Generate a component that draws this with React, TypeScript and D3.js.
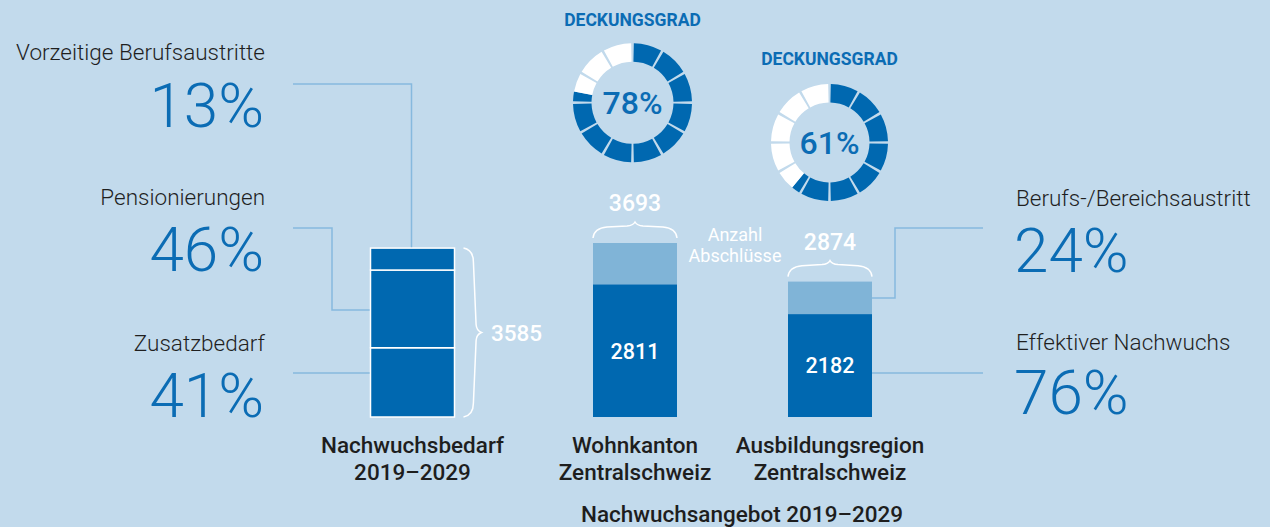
import React from "react";
import * as d3 from "d3";

// ---- data ----
const demandLabels = ["Zusatzbedarf", "Pensionierungen", "Vorzeitige Berufsaustritte"];
const demandShares = [41, 46, 13]; // percent, bottom to top
const demandTotal = 3585;

const supplyCategories = ["Wohnkanton", "Ausbildungsregion"];
const supplyTotals = [3693, 2874];
const supplyEffective = [2811, 2182];
const coverage = [78, 61];

const rightLabels = ["Berufs-/Bereichsaustritt", "Effektiver Nachwuchs"];
const rightShares = [24, 76];

const barCategories = ["Nachwuchsbedarf", "Wohnkanton", "Ausbildungsregion"];
const barLabelLines = [
  ["Nachwuchsbedarf", "2019–2029"],
  ["Wohnkanton", "Zentralschweiz"],
  ["Ausbildungsregion", "Zentralschweiz"],
];
const supplyTitle = "Nachwuchsangebot 2019–2029";
const donutTitle = "DECKUNGSGRAD";
const countLabel = ["Anzahl", "Abschlüsse"];
const donutSegments = 12;

// ---- styles ----
const W = 1270;
const H = 527;
const BG = "#c2daec";
const DARK = "#0068b0";
const LIGHT = "#80b4d7";
const LINE = "#86b9de";
const TEXT = "#1f1f1f";
const BLUE_TEXT = "#0b6cb4";
const FONT = "Roboto, 'Noto Sans', sans-serif";

const y = d3.scaleLinear().domain([0, 3693]).range([417, 243]);
const xc = d3.scaleOrdinal<string, number>().domain(barCategories).range([412.5, 635, 830]);
const BW = 84;

function vBrace(x: number, y0: number, y1: number, w: number) {
  const ym = (y0 + y1) / 2;
  const p = d3.path();
  p.moveTo(x, y0);
  p.quadraticCurveTo(x + w * 0.55, y0 + 2, x + w * 0.55, y0 + 14);
  p.lineTo(x + w * 0.7, ym - 8);
  p.quadraticCurveTo(x + w * 0.72, ym - 2, x + w, ym);
  p.quadraticCurveTo(x + w * 0.72, ym + 2, x + w * 0.7, ym + 8);
  p.lineTo(x + w * 0.55, y1 - 14);
  p.quadraticCurveTo(x + w * 0.55, y1 - 2, x, y1);
  return p.toString();
}

function hBrace(x0: number, x1: number, yb: number, h: number) {
  const xm = (x0 + x1) / 2;
  const p = d3.path();
  p.moveTo(x0, yb);
  p.quadraticCurveTo(x0 + 1, yb - h * 0.6, x0 + 14, yb - h * 0.68);
  p.lineTo(xm - 8, yb - h * 0.75);
  p.quadraticCurveTo(xm - 2, yb - h * 0.78, xm, yb - h);
  p.quadraticCurveTo(xm + 2, yb - h * 0.78, xm + 8, yb - h * 0.75);
  p.lineTo(x1 - 14, yb - h * 0.68);
  p.quadraticCurveTo(x1 - 1, yb - h * 0.6, x1, yb);
  return p.toString();
}

function Donut({ cx, cy, r0, r1, pct }: { cx: number; cy: number; r0: number; r1: number; pct: number }) {
  const arc = d3.arc<any>();
  const step = (2 * Math.PI) / donutSegments;
  const gap = 0.045;
  const f = (pct / 100) * 2 * Math.PI;
  const parts: { s: number; e: number; c: string }[] = [];
  d3.range(donutSegments).forEach((i) => {
    const s = i * step + gap / 2;
    const e = (i + 1) * step - gap / 2;
    if (f > s) parts.push({ s, e: Math.min(e, f), c: DARK });
    if (f < e) parts.push({ s: Math.max(s, f), e, c: "#ffffff" });
  });
  return (
    <g transform={`translate(${cx},${cy})`}>
      {parts.map((p, i) => (
        <path
          key={i}
          d={arc({ innerRadius: r0, outerRadius: r1, startAngle: p.s, endAngle: p.e }) || ""}
          fill={p.c}
        />
      ))}
      <text y={0} dy="0.36em" textAnchor="middle" fontSize={32} fontWeight={500} fill={BLUE_TEXT} fontFamily={FONT}>
        {pct}%
      </text>
    </g>
  );
}

export default function App() {
  let acc = 0;
  const demandSegs = demandShares.map((s) => {
    const v0 = acc;
    acc += (s / 100) * demandTotal;
    return { v0, v1: acc };
  });
  const x1 = xc(barCategories[0]) - BW / 2;
  const x1r = x1 + BW;

  const leftBase = [351, 205, 60];
  const leftPctBase = [417, 271, 127];

  const b3 = xc(barCategories[2]) - BW / 2;

  return (
    <div style={{ position: "absolute", left: 0, top: 0, width: W, height: H }}>
      <svg width={W} height={H} style={{ display: "block", fontFamily: FONT }}>
        <rect width={W} height={H} fill={BG} />

        {/* connector lines */}
        <g fill="none" stroke={LINE} strokeWidth={1.5}>
          <path d={`M293,84H${x1 + 41}V${y(demandTotal)}`} />
          <path d={`M293,228H332V310H${x1}`} />
          <path d={`M293,373H${x1}`} />
          <path d={`M${b3 + BW},${(y(supplyTotals[1]) + y(supplyEffective[1])) / 2}H895V228H983`} />
          <path d={`M${b3 + BW},373H983`} />
        </g>

        {/* demand bar */}
        {demandSegs.map((s, i) => (
          <rect
            key={i}
            x={x1}
            y={y(s.v1)}
            width={BW}
            height={y(s.v0) - y(s.v1)}
            fill={DARK}
            stroke="#ffffff"
            strokeWidth={1.5}
          />
        ))}
        <path d={vBrace(x1r + 9, y(demandTotal), y(0), 18)} fill="none" stroke="#fff" strokeWidth={1.5} />
        <text x={491} y={(y(demandTotal) + y(0)) / 2} dy="0.36em" fill="#fff" fontSize={22.5} fontWeight={500}>
          {demandTotal}
        </text>

        {/* left labels */}
        {demandLabels.map((l, i) => (
          <g key={l}>
            <text x={265} y={leftBase[i]} textAnchor="end" fill={TEXT} fontSize={22.5} fontWeight={300}>
              {l}
            </text>
            <text x={264} y={leftPctBase[i]} textAnchor="end" fill={BLUE_TEXT} fontSize={62} fontWeight={300}>
              {demandShares[i]}%
            </text>
          </g>
        ))}

        {/* supply bars */}
        {supplyCategories.map((c, i) => {
          const bx = xc(c) - BW / 2;
          const cx = xc(c);
          const top = y(supplyTotals[i]);
          return (
            <g key={c}>
              <rect x={bx} y={top} width={BW} height={y(0) - top} fill={LIGHT} />
              <rect x={bx} y={y(supplyEffective[i])} width={BW} height={y(0) - y(supplyEffective[i])} fill={DARK} />
              <text
                x={cx}
                y={(y(supplyEffective[i]) + y(0)) / 2}
                dy="0.36em"
                textAnchor="middle"
                fill="#fff"
                fontSize={21.5}
                fontWeight={500}
              >
                {supplyEffective[i]}
              </text>
              <path d={hBrace(bx, bx + BW, top - 5, 16)} fill="none" stroke="#fff" strokeWidth={1.5} />
              <text x={cx} y={top - 32} textAnchor="middle" fill="#fff" fontSize={23} fontWeight={500}>
                {supplyTotals[i]}
              </text>
            </g>
          );
        })}

        <text textAnchor="middle" fill="#fff" fontSize={18} fontWeight={400}>
          <tspan x={735} y={241}>{countLabel[0]}</tspan>
          <tspan x={735} y={262}>{countLabel[1]}</tspan>
        </text>

        {/* donuts */}
        <text x={632.5} y={26} textAnchor="middle" fill={BLUE_TEXT} fontSize={17.5} fontWeight={700}>
          {donutTitle}
        </text>
        <Donut cx={632.5} cy={102.7} r0={41} r1={59.5} pct={coverage[0]} />
        <text x={829.5} y={65} textAnchor="middle" fill={BLUE_TEXT} fontSize={17.5} fontWeight={700}>
          {donutTitle}
        </text>
        <Donut cx={829.5} cy={142.5} r0={40} r1={58.5} pct={coverage[1]} />

        {/* right labels */}
        {rightLabels.map((l, i) => (
          <g key={l}>
            <text x={1016} y={[206, 350][i]} fill={TEXT} fontSize={22.5} fontWeight={300}>
              {l}
            </text>
            <text x={1014} y={[272, 414][i]} fill={BLUE_TEXT} fontSize={62} fontWeight={300}>
              {rightShares[i]}%
            </text>
          </g>
        ))}

        {/* bottom labels */}
        {barCategories.map((c, i) => (
          <text key={c} textAnchor="middle" fill="#1e1e1e" fontSize={22.5} fontWeight={500}>
            <tspan x={xc(c)} y={453}>{barLabelLines[i][0]}</tspan>
            <tspan x={xc(c)} y={480}>{barLabelLines[i][1]}</tspan>
          </text>
        ))}
        <text x={742} y={522} textAnchor="middle" fill="#1e1e1e" fontSize={22.5} fontWeight={500}>
          {supplyTitle}
        </text>
      </svg>
    </div>
  );
}
